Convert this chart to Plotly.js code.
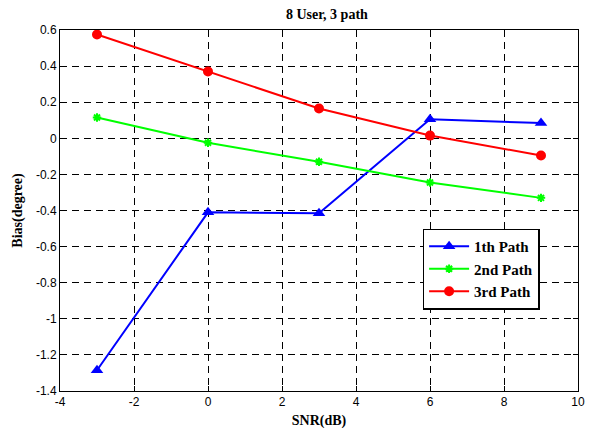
<!DOCTYPE html>
<html><head><meta charset="utf-8">
<script src="https://cdn.plot.ly/plotly-3.0.1.min.js"></script>
<style>html,body{margin:0;padding:0;background:#fff}#chart{width:589px;height:435px}</style>
</head><body><div id="chart"></div>
<script>
const snr = [-3, 0, 3, 6, 9];
const path1 = [-1.285, -0.41, -0.415, 0.105, 0.085];
const path2 = [0.115, -0.025, -0.13, -0.245, -0.33];
const path3 = [0.575, 0.37, 0.165, 0.015, -0.095];
const names = ['1th Path', '2nd Path', '3rd Path'];
const xTickVals = [-4, -2, 0, 2, 4, 6, 8, 10];
const xTickText = ['-4', '-2', '0', '2', '4', '6', '8', '10'];
const yTickVals = [-1.4, -1.2, -1, -0.8, -0.6, -0.4, -0.2, 0, 0.2, 0.4, 0.6];
const yTickText = ['-1.4', '-1.2', '-1', '-0.8', '-0.6', '-0.4', '-0.2', '0', '0.2', '0.4', '0.6'];

const traces = [
  {x: snr, y: path1, name: names[0], mode: 'lines+markers', line: {color: '#0000ff', width: 2},
   marker: {symbol: 'triangle-up', size: 11, color: '#0000ff'}},
  {x: snr, y: path2, name: names[1], mode: 'lines+markers', line: {color: '#00ff00', width: 2},
   marker: {symbol: 'asterisk-open', size: 7, color: '#00ff00', line: {color: '#00ff00', width: 2}}},
  {x: snr, y: path3, name: names[2], mode: 'lines+markers', line: {color: '#ff0000', width: 2},
   marker: {symbol: 'circle', size: 10, color: '#ff0000'}}
];

const axisCommon = {
  showline: true, linecolor: '#000', linewidth: 1, mirror: 'allticks',
  ticks: 'inside', ticklen: 5, tickcolor: '#000',
  showgrid: true, gridcolor: '#000', griddash: '7px,5px', gridwidth: 1,
  zeroline: false, tickmode: 'array',
  tickfont: {family: 'Liberation Sans, Arial', size: 12, color: '#000'}
};
const titleFont = {family: 'Liberation Serif, Times New Roman', size: 14, color: '#000', weight: 'bold'};

const layout = {
  width: 589, height: 435,
  margin: {l: 60, r: 11, t: 30, b: 44},
  paper_bgcolor: '#fff', plot_bgcolor: '#fff',
  title: {text: '8 User, 3 path', font: titleFont,
          x: 0.555, xanchor: 'center', y: 0.968, yanchor: 'middle'},
  xaxis: Object.assign({}, axisCommon, {range: [-4, 10], tickvals: xTickVals, ticktext: xTickText,
    title: {text: 'SNR(dB)', font: titleFont, standoff: 6}}),
  yaxis: Object.assign({}, axisCommon, {range: [-1.4, 0.6], tickvals: yTickVals, ticktext: yTickText,
    title: {text: 'Bias(degree)', font: titleFont, standoff: 10}}),
  showlegend: true,
  legend: {x: 0.70, y: 0.45, xanchor: 'left', yanchor: 'top', bgcolor: '#fff',
    bordercolor: '#000', borderwidth: 1.5,
    font: {family: 'Liberation Serif, Times New Roman', size: 15, color: '#000', weight: 'bold'},
    tracegroupgap: 0, itemwidth: 40}
};

Plotly.newPlot('chart', traces, layout, {displayModeBar: false, staticPlot: true});
</script></body></html>
